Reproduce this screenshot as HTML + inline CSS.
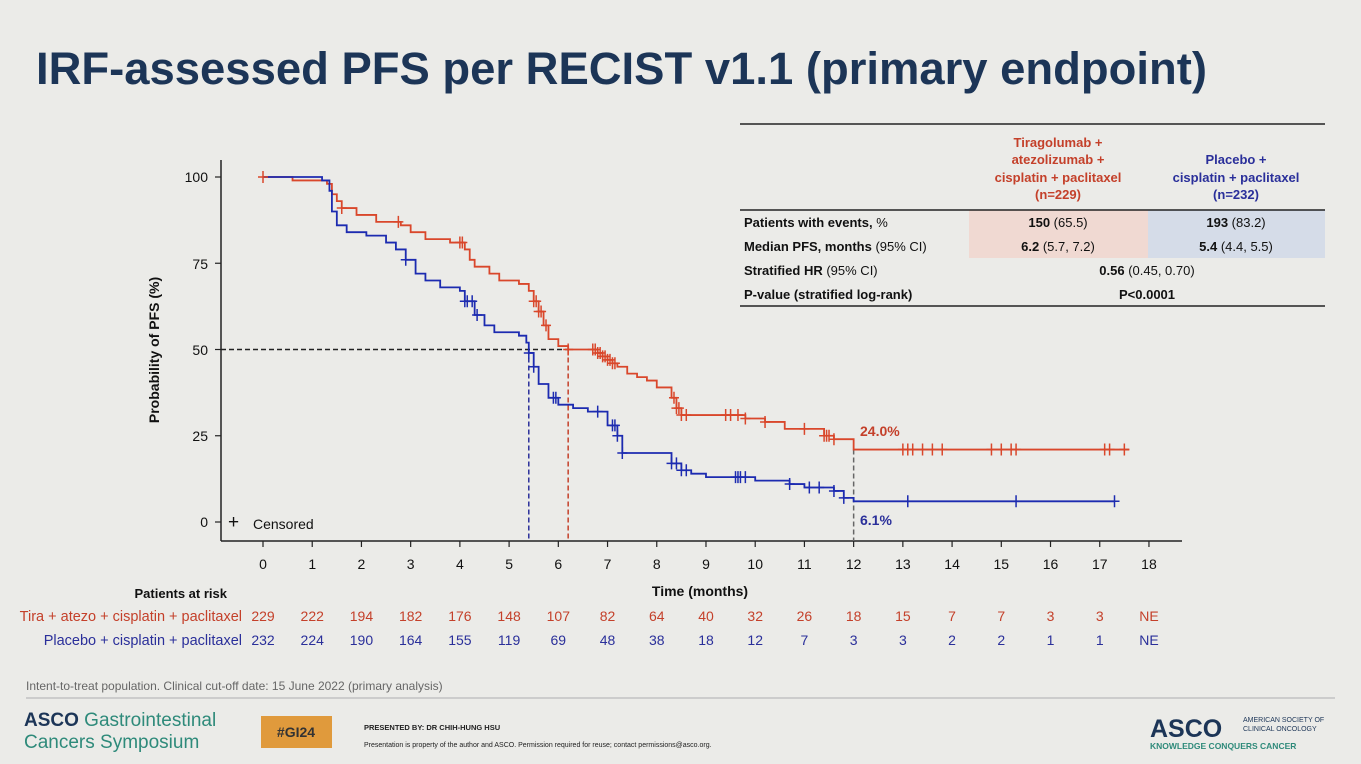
<!DOCTYPE html>
<html><head><meta charset="utf-8">
<style>
body{margin:0;background:#ebebe8;width:1361px;height:764px;overflow:hidden;font-family:"Liberation Sans",Arial,sans-serif;}
svg{position:absolute;left:0;top:0}
</style></head>
<body>
<svg id="s" width="1361" height="764" viewBox="0 0 1361 764" font-family="Liberation Sans, Arial, sans-serif">
<rect width="1361" height="764" fill="#ebebe8"/>
<text x="36" y="84" font-size="45" font-weight="bold" fill="#1c3557" textLength="1171" lengthAdjust="spacingAndGlyphs">IRF-assessed PFS per RECIST v1.1 (primary endpoint)</text>

<!-- table -->
<rect x="969" y="210" width="179" height="48" fill="#f0d9d2"/>
<rect x="1148" y="210" width="177" height="48" fill="#d5dce8"/>
<line x1="740" y1="124" x2="1325" y2="124" stroke="#222" stroke-width="1.5"/>
<line x1="740" y1="210" x2="1325" y2="210" stroke="#222" stroke-width="1.5"/>
<line x1="740" y1="306" x2="1325" y2="306" stroke="#222" stroke-width="1.5"/>
<g font-size="13" font-weight="bold" text-anchor="middle" fill="#c4402a">
<text x="1058" y="147">Tiragolumab +</text><text x="1058" y="164">atezolizumab +</text>
<text x="1058" y="182">cisplatin + paclitaxel</text><text x="1058" y="199">(n=229)</text></g>
<g font-size="13" font-weight="bold" text-anchor="middle" fill="#2a2f9a">
<text x="1236" y="164">Placebo +</text><text x="1236" y="182">cisplatin + paclitaxel</text><text x="1236" y="199">(n=232)</text></g>
<g font-size="13" fill="#111">
<text x="744" y="227"><tspan font-weight="bold">Patients with events,</tspan> %</text>
<text x="744" y="251"><tspan font-weight="bold">Median PFS, months</tspan> (95% CI)</text>
<text x="744" y="275"><tspan font-weight="bold">Stratified HR</tspan> (95% CI)</text>
<text x="744" y="299" font-weight="bold">P-value (stratified log-rank)</text>
<g text-anchor="middle">
<text x="1058" y="227"><tspan font-weight="bold">150</tspan> (65.5)</text>
<text x="1058" y="251"><tspan font-weight="bold">6.2</tspan> (5.7, 7.2)</text>
<text x="1236" y="227"><tspan font-weight="bold">193</tspan> (83.2)</text>
<text x="1236" y="251"><tspan font-weight="bold">5.4</tspan> (4.4, 5.5)</text>
<text x="1147" y="275"><tspan font-weight="bold">0.56</tspan> (0.45, 0.70)</text>
<text x="1147" y="299" font-weight="bold">P&lt;0.0001</text>
</g></g>

<!-- axes -->
<line x1="221" y1="160" x2="221" y2="541" stroke="#222" stroke-width="1.5"/>
<line x1="221" y1="541" x2="1182" y2="541" stroke="#222" stroke-width="1.5"/>
<g id="ticks" stroke="#222" stroke-width="1.2"></g>
<g font-size="14" fill="#111" text-anchor="end">
<text x="208" y="182">100</text><text x="208" y="269">75</text><text x="208" y="355">50</text><text x="208" y="441">25</text><text x="208" y="527">0</text></g>
<text transform="translate(159,350) rotate(-90)" font-size="14" font-weight="bold" text-anchor="middle" fill="#111">Probability of PFS (%)</text>
<g id="xl" font-size="14" fill="#111" text-anchor="middle"></g>
<text x="700" y="596" font-size="14" font-weight="bold" text-anchor="middle" fill="#111">Time (months)</text>
<text x="228" y="528" font-size="19" fill="#111">+</text>
<text x="253" y="529" font-size="14" fill="#111">Censored</text>

<g id="plot"></g>
<text x="860" y="436" font-size="14" font-weight="bold" fill="#c4402a">24.0%</text>
<text x="860" y="525" font-size="14" font-weight="bold" fill="#2a2f9a">6.1%</text>

<!-- risk table -->
<text x="227" y="598" font-size="13" font-weight="bold" text-anchor="end" fill="#111">Patients at risk</text>
<text x="242" y="621" font-size="14.5" text-anchor="end" fill="#c4402a">Tira + atezo + cisplatin + paclitaxel</text>
<text x="242" y="645" font-size="14.5" text-anchor="end" fill="#2a2f9a">Placebo + cisplatin + paclitaxel</text>
<g id="risk" font-size="14" text-anchor="middle"></g>

<text x="26" y="690" font-size="12" fill="#666">Intent-to-treat population. Clinical cut-off date: 15 June 2022 (primary analysis)</text>
<line x1="26" y1="698" x2="1335" y2="698" stroke="#ccc" stroke-width="2"/>
<text x="24" y="726" font-size="19" fill="#1c3557"><tspan font-weight="bold">ASCO</tspan><tspan fill="#2e8a7a"> Gastrointestinal</tspan></text>
<text x="24" y="748" font-size="19" fill="#2e8a7a">Cancers Symposium</text>
<rect x="261" y="716" width="71" height="32" fill="#e09a3c"/>
<text x="296" y="737" font-size="14" font-weight="bold" text-anchor="middle" fill="#333">#GI24</text>
<text x="364" y="730" font-size="7.5" font-weight="bold" fill="#222">PRESENTED BY:  DR CHIH-HUNG HSU</text>
<text x="364" y="747" font-size="7" fill="#222">Presentation is property of the author and ASCO. Permission required for reuse; contact permissions@asco.org.</text>
<text x="1150" y="737" font-size="25" font-weight="bold" fill="#1c3557">ASCO</text>
<text x="1243" y="722" font-size="7" fill="#1c3557">AMERICAN SOCIETY OF</text>
<text x="1243" y="731" font-size="7" fill="#1c3557">CLINICAL ONCOLOGY</text>
<text x="1150" y="749" font-size="8.5" font-weight="bold" fill="#2e8a7a">KNOWLEDGE CONQUERS CANCER</text>
</svg>
<script>
const NS="http://www.w3.org/2000/svg";
const X=m=>263+49.22*m, Y=p=>522-3.45*p;
function el(t,a,parent){const e=document.createElementNS(NS,t);for(const k in a)e.setAttribute(k,a[k]);(parent||document.getElementById('plot')).appendChild(e);return e;}
const ticks=document.getElementById('ticks'),xl=document.getElementById('xl'),risk=document.getElementById('risk');
for(let m=0;m<=18;m++){el('line',{x1:X(m),y1:541,x2:X(m),y2:547},ticks);const t=el('text',{x:X(m),y:569},xl);t.textContent=m;}
[100,75,50,25,0].forEach(p=>el('line',{x1:215,y1:Y(p),x2:221,y2:Y(p)},ticks));
const r1=[229,222,194,182,176,148,107,82,64,40,32,26,18,15,7,7,3,3,'NE'],r2=[232,224,190,164,155,119,69,48,38,18,12,7,3,3,2,2,1,1,'NE'];
r1.forEach((v,i)=>{el('text',{x:X(i),y:621,fill:'#c4402a'},risk).textContent=v;});
r2.forEach((v,i)=>{el('text',{x:X(i),y:645,fill:'#2a2f9a'},risk).textContent=v;});
el('path',{d:`M221 ${Y(50)}H${X(6.2)}`,stroke:'#222','stroke-dasharray':'5,3','stroke-width':1.5,fill:'none'});
el('path',{d:`M${X(5.4)} ${Y(50)}V541`,stroke:'#2a2f9a','stroke-dasharray':'5,3','stroke-width':1.5});
el('path',{d:`M${X(6.2)} ${Y(50)}V541`,stroke:'#c4402a','stroke-dasharray':'5,3','stroke-width':1.5});
el('path',{d:`M${X(12)} ${Y(21)}V541`,stroke:'#666','stroke-dasharray':'5,3','stroke-width':1.5});
const red=[[0,100],[0.6,99],[1.3,98],[1.4,95],[1.5,93],[1.6,91],[1.9,89],[2.3,87],[2.8,86],[3,84],[3.3,82],[3.8,81],[4.1,79],[4.2,76],[4.3,74],[4.6,72],[4.8,70],[5.2,69],[5.4,67],[5.5,64],[5.6,61],[5.7,57],[5.8,53],[6,51],[6.2,50],[6.7,50],[6.8,49],[6.9,48],[7,47],[7.1,46],[7.2,45],[7.4,43],[7.6,42],[7.8,41],[8,39],[8.2,39],[8.3,36],[8.4,33],[8.5,31],[9.5,31],[9.8,30],[10.2,29],[10.6,27],[11.2,27],[11.4,25],[11.6,24],[12,24],[12,21],[17.6,21]];
const blue=[[0,100],[1.2,99],[1.35,96],[1.4,90],[1.5,86],[1.7,84],[2.1,83],[2.5,81],[2.7,79],[2.9,76],[3.1,72],[3.3,70],[3.6,68],[4,67],[4.1,64],[4.3,60],[4.5,57],[4.7,55],[5.2,54],[5.35,52],[5.4,49],[5.5,45],[5.6,40],[5.8,36],[6,34],[6.3,33],[6.6,32],[7.0,28],[7.2,25],[7.3,20],[8.2,20],[8.3,17],[8.5,15],[8.7,14],[9.0,13],[10.0,12],[10.7,11],[11.0,10],[11.6,9],[11.8,7],[12,6],[17.3,6]];
function step(a){let d=`M${X(a[0][0])} ${Y(a[0][1])}`;for(let i=1;i<a.length;i++)d+=`H${X(a[i][0])}V${Y(a[i][1])}`;return d;}
el('path',{d:step(red),stroke:'#d9472b','stroke-width':1.8,fill:'none'});
el('path',{d:step(blue),stroke:'#1c2bb0','stroke-width':1.8,fill:'none'});
function val(a,m){let v=a[0][1];for(const p of a){if(p[0]<=m)v=p[1];}return v;}
function cens(a,ms,c){ms.forEach(m=>{const x=X(m),y=Y(val(a,m));el('path',{d:`M${x} ${y-6}V${y+6}M${x-5} ${y}H${x+5}`,stroke:c,'stroke-width':1.5});});}
cens(red,[0,1.6,2.75,4,4.05,5.5,5.55,5.6,5.65,5.75,6.2,6.7,6.75,6.8,6.85,6.9,6.95,7,7.05,7.1,7.15,8.6,8.35,8.4,8.45,8.5,9.4,9.5,9.65,9.8,10.2,11.0,11.4,11.45,11.5,11.6,13.0,13.1,13.2,13.4,13.6,13.8,14.8,15,15.2,15.3,17.1,17.2,17.5],'#d9472b');
cens(blue,[2.9,4.1,4.15,4.25,4.35,5.4,5.5,5.9,5.95,6.8,7.1,7.15,7.2,7.3,8.3,8.4,8.5,8.6,9.6,9.65,9.7,9.8,10.7,11.1,11.3,11.6,11.8,13.1,15.3,17.3],'#1c2bb0');
</script>
</body></html>
